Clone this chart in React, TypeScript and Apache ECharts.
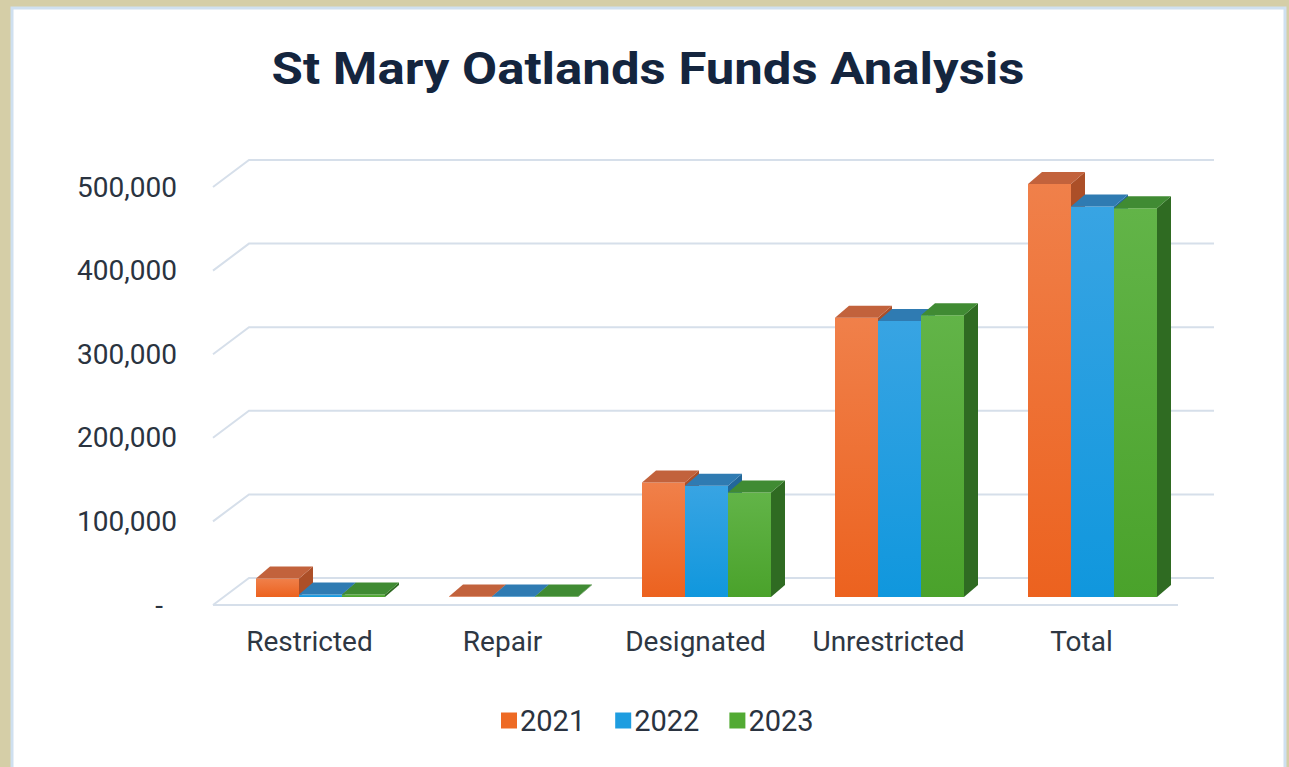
import React, { useEffect, useRef } from "react";
import * as echarts from "echarts";

const categories = ["Restricted", "Repair", "Designated", "Unrestricted", "Total"];
const years = ["2021", "2022", "2023"];
const values2021 = [22000, 500, 137000, 334000, 494000];
const values2022 = [3000, 500, 133000, 330000, 467000];
const values2023 = [3000, 500, 125000, 337000, 465000];
const yTicks = [0, 100000, 200000, 300000, 400000, 500000];
const titleText = "St Mary Oatlands Funds Analysis";

const seriesValues = [values2021, values2022, values2023];

const faceColors = [
  { front: ["#F0804A", "#EC621F"], top: "#C2623C", side: "#AC4F28", legend: "#EE6A24" },
  { front: ["#38A4E3", "#1097DD"], top: "#2F7BB2", side: "#22679A", legend: "#1E9DE0" },
  { front: ["#62B448", "#4AA22B"], top: "#408B33", side: "#2F6B22", legend: "#52AA33" },
];

const DEPTH_X = 36;
const DEPTH_Y = -27;
const BAR_SHIFT_X = 11;
const BAR_SHIFT_Y = -8;
const BAR_DX = 14;
const BAR_DY = -12;

export default function App() {
  const ref = useRef<HTMLDivElement>(null);

  useEffect(() => {
    if (!ref.current) return;
    const chart = echarts.init(ref.current, undefined, { renderer: "svg" });

    let titleScale = 1;
    try {
      const c = document.createElement("canvas").getContext("2d");
      if (c) {
        c.font = "bold 45px Roboto";
        const w = c.measureText(titleText).width;
        if (w > 0) titleScale = 753 / w;
      }
    } catch (e) {}

    const gridSeries: any = {
      type: "custom",
      name: "grid",
      silent: true,
      z: 1,
      data: yTicks.map((t) => [0, t]),
      encode: { x: 0, y: 1 },
      renderItem: (params: any, api: any) => {
        const cs = params.coordSys;
        const y = api.coord([0, api.value(1)])[1];
        const style = { stroke: "#D6DFEA", lineWidth: 2, fill: null };
        const children: any[] = [
          {
            type: "polyline",
            shape: {
              points: [
                [cs.x, y],
                [cs.x + DEPTH_X, y + DEPTH_Y],
                [cs.x + cs.width + DEPTH_X, y + DEPTH_Y],
              ],
            },
            style,
          },
        ];
        if (api.value(1) === 0) {
          children.push({
            type: "line",
            shape: { x1: cs.x, y1: y, x2: cs.x + cs.width, y2: y },
            style,
          });
        }
        return { type: "group", children };
      },
    };

    const barSeries = years.map((yr, s) => ({
      type: "custom",
      name: yr,
      z: 2 + s,
      itemStyle: { color: faceColors[s].legend },
      data: seriesValues[s].map((v, i) => [i, v]),
      encode: { x: 0, y: 1 },
      renderItem: (params: any, api: any) => {
        const cat = api.value(0);
        const v = api.value(1);
        const base = api.coord([cat, 0]);
        const top = api.coord([cat, v]);
        const band = api.size([1, 0])[0];
        const barW = band * (43 / 193);
        const x0 = base[0] - 1.5 * barW + s * barW + BAR_SHIFT_X;
        const x1 = x0 + barW;
        const yt = top[1] + BAR_SHIFT_Y;
        const yb = base[1] + BAR_SHIFT_Y;
        const col = faceColors[s];
        return {
          type: "group",
          children: [
            {
              type: "polygon",
              shape: {
                points: [
                  [x1, yt],
                  [x1 + BAR_DX, yt + BAR_DY],
                  [x1 + BAR_DX, yb + BAR_DY],
                  [x1, yb],
                ],
              },
              style: { fill: col.side },
            },
            {
              type: "rect",
              shape: { x: x0, y: yt, width: barW, height: Math.max(yb - yt, 0) },
              style: {
                fill: new echarts.graphic.LinearGradient(0, 0, 0, 1, [
                  { offset: 0, color: col.front[0] },
                  { offset: 1, color: col.front[1] },
                ]),
              },
            },
            {
              type: "polygon",
              shape: {
                points: [
                  [x0, yt],
                  [x1, yt],
                  [x1 + BAR_DX, yt + BAR_DY],
                  [x0 + BAR_DX, yt + BAR_DY],
                ],
              },
              style: { fill: col.top },
            },
          ],
        };
      },
    }));

    chart.setOption({
      animation: false,
      backgroundColor: "#D5CEA7",
      graphic: [
        {
          type: "rect",
          z: -10,
          shape: { x: 12, y: 8, width: 1273, height: 800 },
          style: { fill: "#FFFFFF", stroke: "#CFE0F0", lineWidth: 3 },
        },
        {
          type: "text",
          x: 648,
          y: 69,
          scaleX: titleScale,
          style: {
            text: titleText,
            font: "bold 45px Roboto",
            fill: "#14253E",
            textAlign: "center",
            textVerticalAlign: "middle",
          },
        },
      ],
      legend: {
        data: years,
        left: 496,
        top: 701,
        icon: "rect",
        itemWidth: 16,
        itemHeight: 16,
        itemGap: 30,
        textStyle: { fontFamily: "Roboto", fontSize: 29, color: "#2A3340", padding: [0, 0, 0, -2] },
      },
      grid: { left: 213, right: 111, top: 187, bottom: 162, containLabel: false },
      xAxis: {
        type: "category",
        data: categories,
        axisLine: { show: false },
        axisTick: { show: false },
        axisLabel: {
          interval: 0,
          hideOverlap: false,
          fontFamily: "Roboto",
          fontSize: 28,
          color: "#2E3743",
          margin: 22,
        },
      },
      yAxis: {
        type: "value",
        min: 0,
        max: 500000,
        interval: 100000,
        axisLine: { show: false },
        axisTick: { show: false },
        splitLine: { show: false },
        axisLabel: {
          fontFamily: "Roboto",
          fontSize: 28,
          color: "#2A3340",
          margin: 36,
          formatter: (v: number) => (v === 0 ? "-  " : v.toLocaleString("en-US")),
        },
      },
      series: [gridSeries, ...barSeries],
    });

    return () => chart.dispose();
  }, []);

  return (
    <div
      ref={ref}
      style={{ position: "fixed", left: 0, top: 0, width: 1289, height: 767 }}
    />
  );
}
